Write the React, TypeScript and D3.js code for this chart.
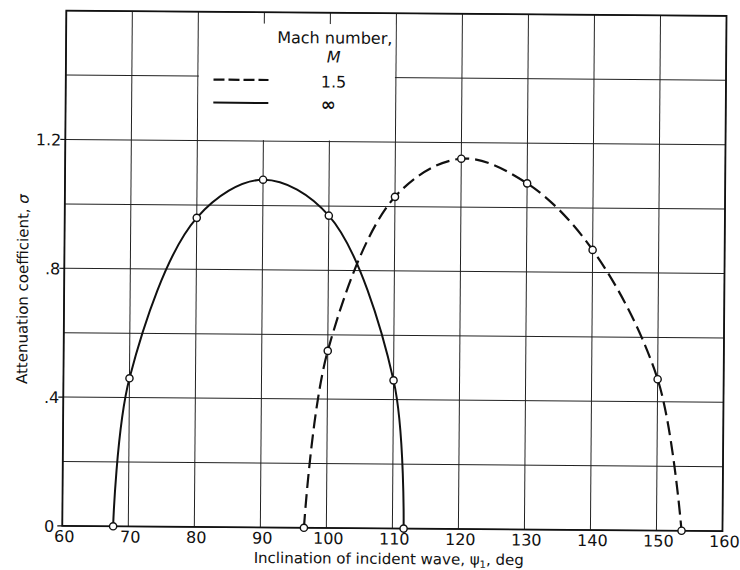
import { useEffect, useRef } from 'react';
import * as d3 from 'd3';

// Mach number = infinity (solid curve)
const infAngle = [67.7, 70, 80, 90, 100, 110, 111.7];
const infAtten = [0, 0.46, 0.96, 1.08, 0.97, 0.46, 0];

// Mach number = 1.5 (dashed curve)
const m15Angle = [96.6, 100, 110, 120, 130, 140, 150, 153.8];
const m15Atten = [0, 0.55, 1.03, 1.15, 1.075, 0.87, 0.47, 0];

const xTicks = [60, 70, 80, 90, 100, 110, 120, 130, 140, 150, 160];
const yGrid = [0, 0.2, 0.4, 0.6, 0.8, 1.0, 1.2, 1.4, 1.6];
const yTickVals = [0, 0.4, 0.8, 1.2];
const yTickText = ['0', '.4', '.8', '1.2'];

export default function App() {
    const svgRef = useRef<SVGSVGElement>(null);

    useEffect(() => {
        if (!svgRef.current) return;
        const W = 740, H = 570;
        const left = 64.3, right = 724.5, top = 13.3, bottom = 528.5;
        const font = '"DejaVu Sans", "Liberation Sans", sans-serif';

        const svg = d3.select(svgRef.current);
        svg.selectAll('*').remove();
        svg.append('rect').attr('width', W).attr('height', H).attr('fill', '#fff');

        // scanned page is slightly rotated
        const g = svg.append('g')
            .attr('transform', `rotate(0.45,${(left + right) / 2},${(top + bottom) / 2})`);

        const x = d3.scaleLinear().domain([60, 160]).range([left, right]);
        const y = d3.scaleLinear().domain([0, 1.6]).range([bottom, top]);

        // Grid
        g.selectAll('.vgrid').data(xTicks).join('line')
            .attr('x1', d => x(d)).attr('x2', d => x(d))
            .attr('y1', top).attr('y2', bottom)
            .attr('stroke', '#222').attr('stroke-width', 1);
        g.selectAll('.hgrid').data(yGrid).join('line')
            .attr('x1', left).attr('x2', right)
            .attr('y1', d => y(d)).attr('y2', d => y(d))
            .attr('stroke', '#222').attr('stroke-width', 1);

        // blank area behind the legend
        g.append('rect')
            .attr('x', x(80) + 1).attr('width', x(110) - x(80) - 2)
            .attr('y', y(1.565)).attr('height', y(1.2) - y(1.565) - 1)
            .attr('fill', '#fff');

        // Frame
        g.append('rect')
            .attr('x', left).attr('y', top)
            .attr('width', right - left).attr('height', bottom - top)
            .attr('fill', 'none').attr('stroke', '#111').attr('stroke-width', 1.8);

        // y ticks + labels
        g.selectAll('.ytick').data(yTickVals).join('line')
            .attr('x1', left - 5).attr('x2', left)
            .attr('y1', d => y(d)).attr('y2', d => y(d))
            .attr('stroke', '#111').attr('stroke-width', 1.2);
        g.selectAll('.ylbl').data(yTickVals).join('text')
            .attr('x', (d, i) => (i === 0 ? left - 8 : left - 4))
            .attr('y', d => y(d) + 6)
            .attr('text-anchor', 'end').attr('font-size', 16).attr('font-family', font).attr('fill', '#111')
            .text((_, i) => yTickText[i]);

        // x labels
        g.selectAll('.xlbl').data(xTicks).join('text')
            .attr('x', d => x(d) + 2).attr('y', bottom + 16)
            .attr('text-anchor', 'middle').attr('font-size', 16).attr('font-family', font).attr('fill', '#111')
            .text(d => d);

        // Axis titles
        const xt = g.append('text')
            .attr('x', 391).attr('y', 564)
            .attr('text-anchor', 'middle').attr('font-size', 15).attr('font-family', font).attr('fill', '#111');
        xt.append('tspan').text('Inclination of incident wave,  ψ');
        xt.append('tspan').attr('font-size', 10).attr('dy', 3).text('1');
        xt.append('tspan').attr('dy', -3).text(',  deg');

        const yt = g.append('text')
            .attr('transform', `translate(28,292) rotate(-90)`)
            .attr('text-anchor', 'middle').attr('font-size', 15).attr('font-family', font).attr('fill', '#111');
        yt.append('tspan').text('Attenuation  coefficient,  ');
        yt.append('tspan').attr('font-style', 'italic').text('σ');

        // Curves
        const line = d3.line<[number, number]>()
            .x(d => x(d[0])).y(d => y(d[1]))
            .curve(d3.curveCatmullRom.alpha(0.5));

        const infPts = infAngle.map((a, i) => [a, infAtten[i]] as [number, number]);
        const m15Pts = m15Angle.map((a, i) => [a, m15Atten[i]] as [number, number]);

        g.append('path').attr('d', line(infPts))
            .attr('fill', 'none').attr('stroke', '#111').attr('stroke-width', 2);
        g.append('path').attr('d', line(m15Pts))
            .attr('fill', 'none').attr('stroke', '#111').attr('stroke-width', 2.2)
            .attr('stroke-dasharray', '14,6');

        g.selectAll('.pt').data([...infPts, ...m15Pts]).join('circle')
            .attr('cx', d => x(d[0])).attr('cy', d => y(d[1])).attr('r', 3.6)
            .attr('fill', '#fff').attr('stroke', '#111').attr('stroke-width', 1.4);

        // Legend
        const lg = g.append('g').attr('font-family', font).attr('fill', '#111').attr('font-size', 16);
        lg.append('text').attr('x', 333).attr('y', 44).attr('text-anchor', 'middle').text('Mach number,');
        lg.append('text').attr('x', 332).attr('y', 63).attr('text-anchor', 'middle')
            .attr('font-style', 'italic').text('M');
        lg.append('text').attr('x', 332).attr('y', 88).attr('text-anchor', 'middle').text('1.5');
        lg.append('text').attr('x', 327).attr('y', 111).attr('text-anchor', 'middle')
            .attr('font-size', 18).attr('font-weight', 'bold').text('∞');
        lg.append('line').attr('x1', 212).attr('x2', 267).attr('y1', 81).attr('y2', 81)
            .attr('stroke', '#111').attr('stroke-width', 2.2).attr('stroke-dasharray', '11,4');
        lg.append('line').attr('x1', 212).attr('x2', 267).attr('y1', 104).attr('y2', 104)
            .attr('stroke', '#111').attr('stroke-width', 2);
    }, []);

    return (
        <svg ref={svgRef} width={740} height={570}
            style={{ position: 'absolute', left: 0, top: 0, display: 'block' }} />
    );
}
